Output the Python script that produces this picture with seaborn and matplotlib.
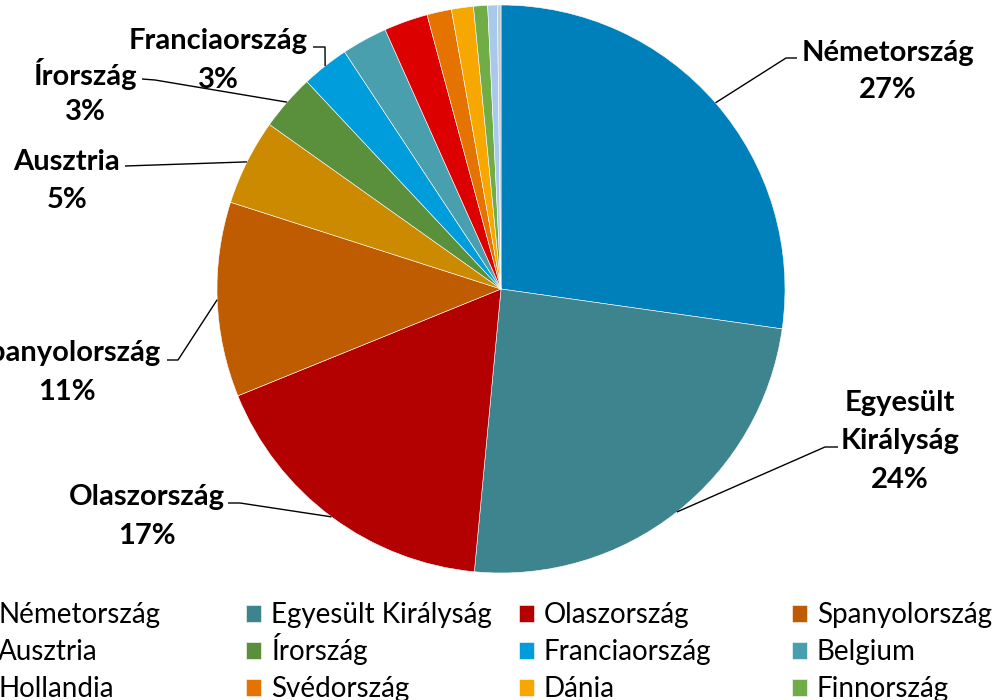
import matplotlib
matplotlib.use("Agg")
import matplotlib.pyplot as plt
import seaborn as sns
import numpy as np

# share of each country (%)
countries = ["Németország", "Egyesült Királyság", "Olaszország", "Spanyolország",
             "Ausztria", "Írország", "Franciaország", "Belgium",
             "Hollandia", "Svédország", "Dánia", "Finnország",
             "Portugália", "Egyéb"]
shares = [27.3, 24.3, 17.4, 11.1, 4.9, 3.2, 2.7, 2.6, 2.5, 1.4, 1.25, 0.8, 0.55, 0.2]
colors = ["#0080ba", "#3e848f", "#b30000", "#bf5b00",
          "#cc8a00", "#5a8f3c", "#009ddc", "#4a9fae",
          "#dc0000", "#e57300", "#f6a800", "#70ad47",
          "#a9c9ec", "#c0ccd6"]
legend_count = 12  # the rest of the legend falls outside the picture

W, H = 1004, 700


def py(y):
    # picture y (down) -> axes y (up)
    return H - y


# label layout: text centre and leader line points (from text towards slice)
label_layout = {
    0: ((888, 69), [(797, 58), (786, 58)]),
    1: ((900, 439), [(838, 447), (825, 447)]),
    2: ((147, 514), [(228, 503), (240, 503)]),
    3: ((67, 370), [(167, 360), (178, 360)]),
    4: ((67, 178), [(125, 166)]),
    5: ((85, 91), [(142, 79), (155, 80)]),
    6: ((218, 58), [(313, 47), (325, 47)]),
}
line_step = 38

# legend grid (row-major like the original)
col_marker_x = [-27, 246, 519, 792]
row_bottom_y = [628, 665, 702]


def main():
    sns.set_theme(style="white")
    plt.rcParams["font.family"] = ["Lato", "DejaVu Sans"]

    fig = plt.figure(figsize=(W / 100, H / 100), dpi=100)
    ax = fig.add_axes([0, 0, 1, 1])

    cx, cy, r = 501, py(289), 284
    wedges, _ = ax.pie(shares, colors=colors, startangle=90, counterclock=False,
                       center=(cx, cy), radius=r, frame=True,
                       wedgeprops=dict(edgecolor="white", linewidth=0.4))
    ax.set_xlim(0, W)
    ax.set_ylim(0, H)
    ax.set_aspect("equal")
    ax.axis("off")

    total = sum(shares)
    for i, ((tx, ty), pts) in label_layout.items():
        w = wedges[i]
        mid = np.deg2rad((w.theta1 + w.theta2) / 2)
        edge = (cx + r * np.cos(mid), cy + r * np.sin(mid))
        xs = [p[0] for p in pts] + [edge[0]]
        ys = [py(p[1]) for p in pts] + [edge[1]]
        ax.plot(xs, ys, color="black", lw=1.0, solid_capstyle="butt")

        pct = "%d%%" % round(shares[i] / total * 100)
        lines = countries[i].split(" ") if i == 1 else [countries[i]]
        lines = lines + [pct]
        n = len(lines)
        for k, s in enumerate(lines):
            yy = ty + (k - (n - 1) / 2) * line_step
            ax.text(tx, py(yy), s, ha="center", va="center_baseline",
                    fontsize=21, fontweight="bold", color="black")

    # legend entries, one per slot so every row shares a baseline
    for j in range(legend_count):
        row, col = j // 4, j % 4
        fig.legend([wedges[j]], [countries[j]], loc="lower left",
                   bbox_to_anchor=(col_marker_x[col] / W, py(row_bottom_y[row]) / H),
                   frameon=False, fontsize=20, borderpad=0, borderaxespad=0,
                   handlelength=0.55, handleheight=0.55, handletextpad=0.35,
                   labelcolor="black")

    plt.savefig("out.png", dpi=100)


if __name__ == '__main__':
    main()
